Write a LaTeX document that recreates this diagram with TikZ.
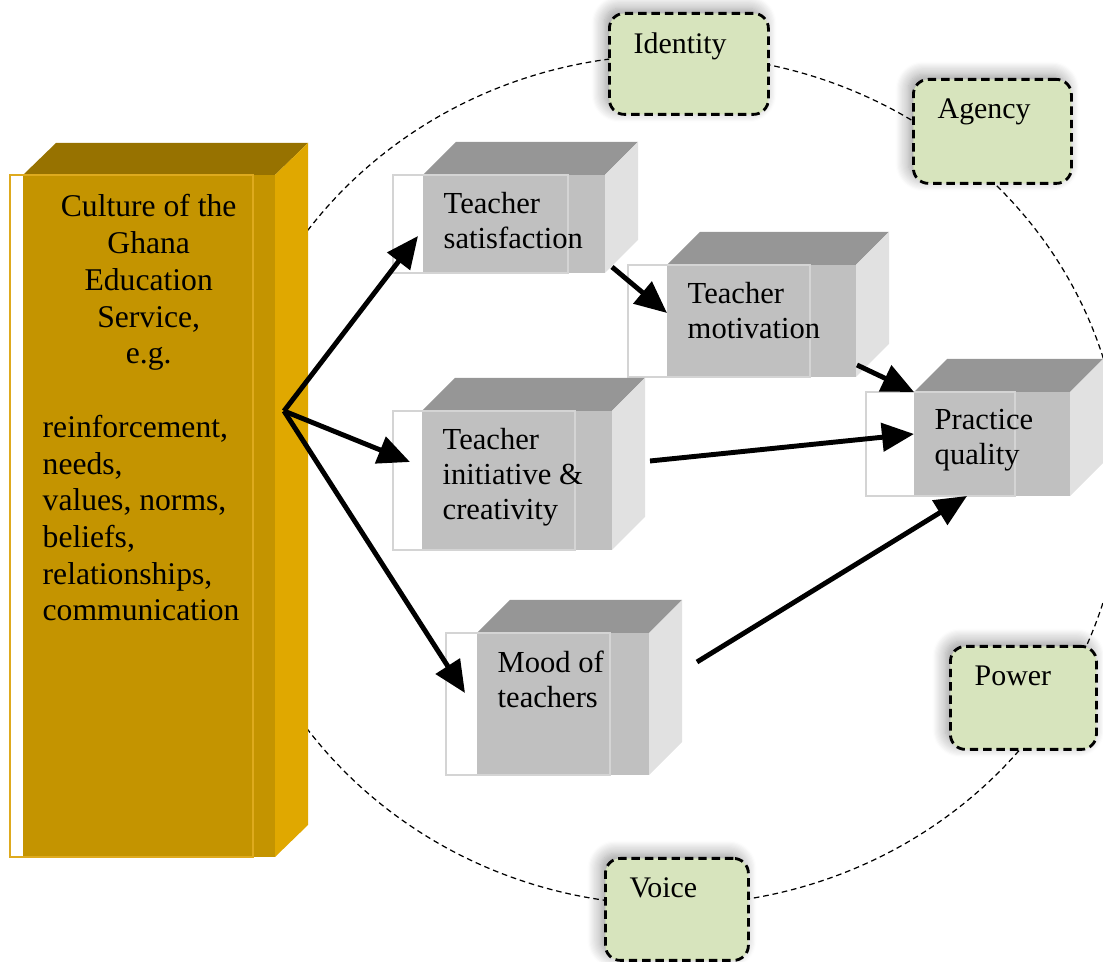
\documentclass[tikz,border=0pt]{standalone}
\usepackage{fontspec}
\setmainfont{Liberation Serif}
\usetikzlibrary{positioning,arrows.meta,shadows.blur}
\definecolor{goldfront}{RGB}{196,148,0}
\definecolor{goldtop}{RGB}{151,114,0}
\definecolor{goldside}{RGB}{224,168,0}
\definecolor{goldrim}{RGB}{222,170,30}
\definecolor{cubefront}{RGB}{192,192,192}
\definecolor{cubetop}{RGB}{150,150,150}
\definecolor{cubeside}{RGB}{225,225,225}
\definecolor{cuberim}{RGB}{212,212,212}
\definecolor{sage}{RGB}{215,228,189}

\begin{document}
\begin{tikzpicture}
				\tikzset{face/.style={inner sep=0pt,outer sep=0pt,anchor=south west}}
				\tikzset{cubetext/.style={inner sep=0pt,align=left,font=\fontsize{8.7}{9.96}\selectfont,execute at begin node={\spaceskip=0pt\relax}}}
				\tikzset{theme/.style={draw,dash pattern=on 2.4pt off 1.4pt,line width=0.8pt,fill=sage,rounded corners=0.15cm,inner sep=0pt,anchor=north west,blur shadow={shadow xshift=-0.05cm,shadow yshift=0.05cm,shadow blur radius=0.13cm,shadow blur steps=12,shadow opacity=40}}}
				\tikzset{themetext/.style={inner sep=0pt,font=\fontsize{8.5}{10}\selectfont}}
				\tikzset{link/.style={line width=1.4pt,-{Triangle[length=0.32cm,width=0.28cm]}}}
				\clip (0,0) rectangle (11.03,9.62);
				% dashed ring behind everything
				\draw[dash pattern=on 1.6pt off 1.1pt,line width=0.35pt] (6.72,4.82) ellipse [x radius=4.5,y radius=4.25];
				\foreach \nm/\x/\y/\w/\h/\txt in {idn/6.08/9.50/1.59/1.01/Identity, agc/9.12/8.84/1.58/1.04/Agency, pow/9.49/3.17/1.46/1.03/Power, voi/6.04/1.05/1.43/1.02/Voice}
				{
					\node[theme,minimum width=\w cm,minimum height=\h cm] (\nm) at (\x,\y) {};
					\node[themetext,below right=0.2cm and 0.25cm of \nm.north west] (\nm-txt) {\txt};
				}
				% the culture block
				\node[face,fill=goldfront,minimum width=2.52cm,minimum height=6.82cm] (culture) at (0.23,1.05) {};
				\fill[goldtop] (culture.north west) -- ++(0.33,0.32) -- ++(2.52,0) -- (culture.north east) -- cycle;
				\fill[goldside] (culture.north east) -- ++(0.33,0.32) -- ++(0,-6.82) -- (culture.south east) -- cycle;
				\draw[goldrim,line width=0.6pt] ([xshift=-0.13cm]culture.south west) rectangle ([xshift=-0.22cm]culture.north east);
				\node[inner sep=0pt,text width=2.12cm,font=\fontsize{9}{10.45}\selectfont,execute at begin node={\spaceskip=0pt\relax},below right=0.19cm and 0.19cm of culture.north west] (culture-txt)
					{{\centering Culture of the\\Ghana\\Education\\Service,\\e.g.\par}\vspace{\baselineskip}\raggedright reinforcement,\\needs,\\values, norms,\\beliefs,\\relationships,\\communication};
				% the grey cubes
				\foreach \nm/\x/\y/\w/\h/\rl/\rw/\txt in {
					sat/4.23/6.89/1.82/0.98/0.30/1.75/{Teacher\\satisfaction},
					mot/6.67/5.85/1.89/1.12/0.39/1.82/{Teacher\\motivation},
					ini/4.22/4.12/1.90/1.39/0.29/1.82/{Teacher\\initiative \&\\creativity},
					mood/4.77/1.87/1.72/1.42/0.31/1.64/{Mood of\\teachers},
					prac/9.14/4.66/1.56/1.04/0.48/1.49/{Practice\\quality}}
				{
					\node[face,fill=cubefront,minimum width=\w cm,minimum height=\h cm] (\nm) at (\x,\y) {};
					\fill[cubetop] (\nm.north west) -- ++(0.33,0.33) -- ++(\w,0) -- (\nm.north east) -- cycle;
					\fill[cubeside] (\nm.north east) -- ++(0.33,0.33) -- ++(0,-\h) -- (\nm.south east) -- cycle;
					\draw[cuberim,line width=0.6pt] ([xshift=-\rl cm]\nm.south west) rectangle ++(\rw,\h);
					\node[cubetext,below right=0.17cm and 0.2cm of \nm.north west] (\nm-txt) {\txt};
				}
				% arrows
				\coordinate (src) at ([shift={(0.09,1.05)}]culture.east);
				\draw[link] (src) -- ([shift={(-0.05,-0.12)}]sat.west);
				\draw[link] (src) -- ([shift={(-0.12,0.185)}]ini.west);
				\draw[link] (src) -- ([shift={(-0.12,0.11)}]mood.west);
				\draw[link] ([shift={(0.07,0.06)}]sat.south east) -- ([yshift=0.08cm]mot.west);
				\draw[link] ([shift={(0.01,0.12)}]mot.south east) -- (prac.north west);
				\draw[link] ([shift={(0.38,0.195)}]ini.east) -- ([yshift=0.1cm]prac.west);
				\draw[link] ([shift={(0.48,0.42)}]mood.east) -- ([xshift=-0.25cm]prac.south);
			\end{tikzpicture}
\end{document}
